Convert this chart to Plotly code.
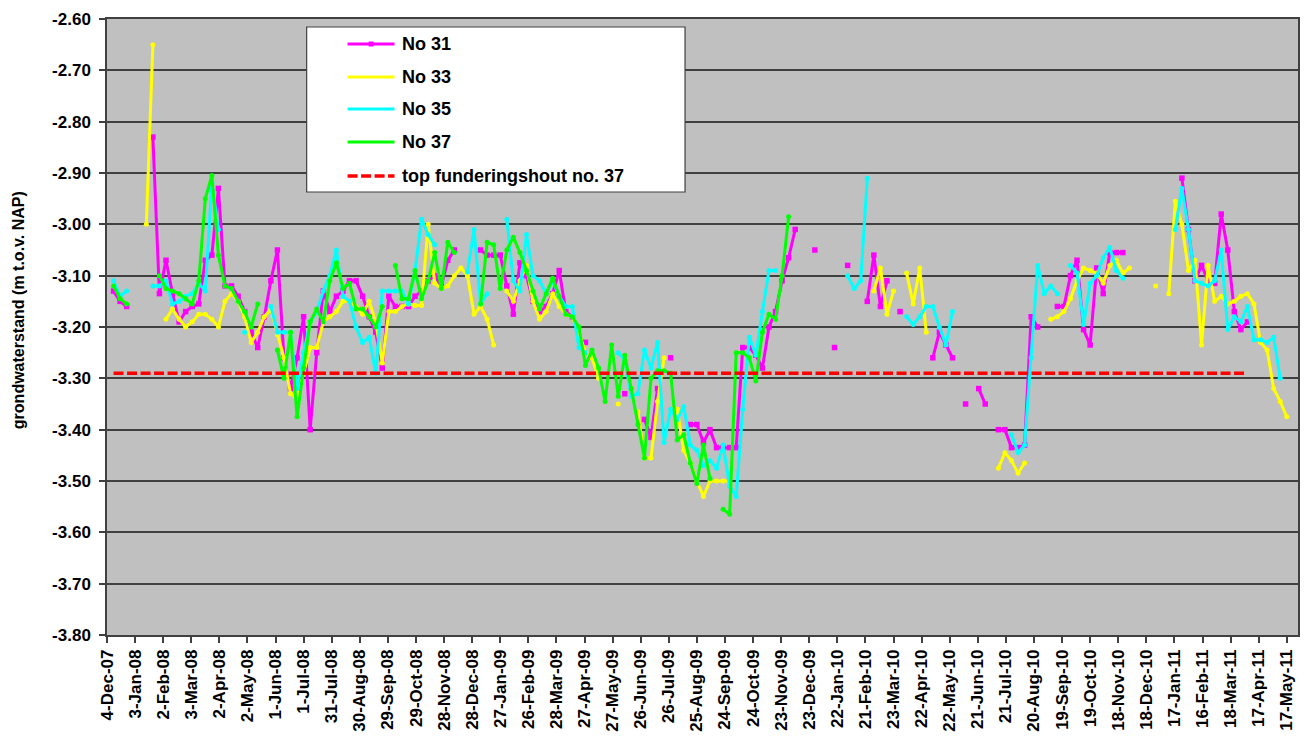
import pandas as pd
import plotly.graph_objects as go

# Weekly measurement dates (4 Dec 2007 .. 17 May 2011)
DATES = pd.date_range("2007-12-04", periods=181, freq="7D").strftime("%Y-%m-%d").tolist()

# Groundwater levels (m t.o.v. NAP); None = no reading that week
NO31 = [
    None, -3.13, -3.15, -3.16, None, None, None, -2.83, -3.135, -3.07,
    -3.135, -3.19, -3.17, -3.16, -3.155, -3.07, -3.06, -2.93, -3.12, -3.12,
    -3.14, -3.17, -3.21, -3.24, -3.18, -3.11, -3.05, -3.26, -3.32, -3.26,
    -3.18, -3.40, -3.25, -3.13, -3.17, -3.14, -3.13, -3.11, -3.11, -3.14,
    -3.18, -3.21, -3.28, -3.14, -3.16, -3.16, -3.16, -3.14, -3.13, -3.11,
    -3.10, -3.12, -3.07, -3.05, None, None, None, -3.05, -3.06, -3.06,
    -3.06, -3.12, -3.175, -3.075, -3.10, -3.15, -3.17, -3.16, -3.135, -3.09,
    -3.17, -3.18, None, -3.23, None, None, None, None, None, -3.33,
    None, None, -3.38, -3.415, -3.32, None, -3.26, None, None, -3.39,
    -3.39, -3.425, -3.40, -3.435, -3.435, -3.435, -3.435, -3.24, -3.24, -3.255,
    -3.28, -3.20, -3.17, -3.11, -3.065, -3.01, None, None, -3.05, None,
    None, -3.24, None, -3.08, None, None, -3.15, -3.06, -3.16, -3.11,
    None, -3.17, None, None, None, None, -3.26, -3.21, -3.235, -3.26,
    None, -3.35, None, -3.32, -3.35, None, -3.40, -3.40, -3.435, -3.435,
    -3.43, -3.18, -3.20, None, None, -3.16, -3.16, -3.10, -3.07, -3.205,
    -3.235, -3.085, -3.135, -3.055, -3.055, -3.055, None, None, None, None,
    None, None, None, None, -2.91, -3.01, -3.11, -3.08, -3.11, -3.115,
    -2.98, -3.05, -3.17, -3.205, -3.19, None, None, None, None, None,
    None,
]

NO33 = [
    None, None, None, None, None, None, -3.00, -2.65, None, -3.185,
    -3.165, -3.185, -3.20, -3.19, -3.175, -3.175, -3.185, -3.20, -3.15, -3.135,
    -3.15, -3.18, -3.23, -3.21, -3.18, -3.165, -3.215, -3.26, -3.33, -3.34,
    -3.29, -3.24, -3.24, -3.19, -3.18, -3.17, -3.15, -3.15, -3.16, -3.175,
    -3.15, -3.19, -3.27, -3.17, -3.17, -3.16, -3.155, -3.158, -3.158, -3.00,
    -3.115, -3.125, -3.12, -3.10, -3.085, -3.10, -3.175, -3.16, -3.185, -3.235,
    None, -3.13, -3.15, -3.11, -3.08, -3.15, -3.185, -3.17, -3.135, -3.16,
    -3.175, -3.18, -3.21, -3.25, -3.26, -3.30, None, None, -3.35, None,
    None, -3.365, -3.455, -3.455, -3.345, -3.26, None, -3.36, -3.44, -3.465,
    -3.50, -3.53, -3.50, -3.50, -3.50, -3.50, None, None, None, None,
    None, None, None, None, None, None, None, None, None, None,
    None, None, None, None, None, None, None, -3.13, -3.085, -3.175,
    -3.13, None, -3.095, -3.155, -3.085, -3.21, None, None, None, None,
    None, None, None, None, None, None, -3.475, -3.445, -3.46, -3.485,
    -3.465, None, None, None, -3.185, -3.18, -3.17, -3.145, -3.11, -3.085,
    -3.09, -3.095, -3.115, -3.08, -3.07, -3.095, -3.085, None, None, None,
    -3.12, None, -3.135, -2.955, -3.00, -3.09, -3.07, -3.235, -3.08, -3.15,
    -3.14, -3.155, -3.15, -3.14, -3.135, -3.155, -3.23, -3.245, -3.32, -3.345,
    -3.375,
]

NO35 = [
    None, -3.11, -3.14, -3.13, None, None, None, -3.12, -3.12, -3.11,
    -3.155, -3.15, -3.14, -3.135, -3.115, -3.13, -2.92, -3.01, None, None,
    None, -3.21, None, None, None, -3.16, -3.21, -3.21, -3.21, -3.32,
    -3.25, -3.19, -3.17, -3.13, -3.10, -3.05, -3.14, -3.15, -3.20, -3.23,
    -3.22, -3.29, -3.13, -3.13, -3.13, -3.13, -3.155, -3.09, -2.99, -3.02,
    -3.04, None, None, None, None, -3.093, -3.01, -3.155, -3.135, None,
    None, -2.99, -3.11, -3.13, -3.02, -3.10, -3.11, -3.135, -3.11, -3.14,
    -3.16, -3.16, -3.24, -3.25, None, None, None, None, -3.25, -3.265,
    -3.335, -3.33, -3.245, -3.28, -3.23, -3.425, -3.36, -3.38, -3.355, -3.43,
    -3.44, -3.47, -3.46, -3.475, -3.43, -3.51, -3.53, -3.36, -3.22, -3.255,
    -3.17, -3.09, -3.09, None, None, None, None, None, None, None,
    None, None, None, -3.10, -3.125, -3.11, -2.91, None, None, None,
    None, None, -3.18, -3.195, -3.18, -3.16, -3.16, -3.20, -3.235, -3.17,
    None, None, None, None, None, None, None, None, -3.41, -3.445,
    -3.43, -3.26, -3.08, -3.135, -3.12, -3.135, None, -3.08, -3.095, -3.195,
    -3.115, -3.10, -3.065, -3.045, -3.09, -3.105, None, None, None, None,
    None, None, None, -3.01, -2.93, -3.01, -3.11, -3.115, -3.12, -3.11,
    -3.05, -3.205, -3.18, -3.19, -3.16, -3.225, -3.225, -3.23, -3.22, -3.30,
    None,
]

NO37 = [
    None, -3.12, -3.145, -3.155, None, None, None, None, -3.10, -3.125,
    -3.13, -3.135, -3.145, -3.155, -3.11, -2.95, -2.905, -3.06, -3.12, -3.125,
    -3.15, -3.17, -3.20, -3.155, None, None, -3.245, -3.30, -3.21, -3.375,
    -3.28, -3.19, -3.165, -3.19, -3.11, -3.075, -3.125, -3.115, -3.165, -3.165,
    -3.18, -3.20, -3.16, None, -3.08, -3.145, -3.145, -3.09, -3.145, -3.11,
    -3.055, -3.125, -3.035, -3.055, None, None, None, -3.155, -3.035, -3.04,
    -3.125, -3.05, -3.025, -3.055, -3.09, -3.13, -3.165, -3.135, -3.105, -3.14,
    -3.175, -3.18, -3.20, -3.275, -3.245, -3.28, -3.345, -3.235, -3.335, -3.255,
    -3.32, -3.39, -3.455, -3.30, -3.285, -3.285, -3.29, -3.42, -3.41, -3.465,
    -3.505, -3.43, -3.495, None, -3.555, -3.565, -3.25, -3.25, -3.26, -3.305,
    -3.21, -3.175, -3.185, -3.10, -2.985,
] + [None] * 76

# Top of foundation timber, pile no. 37
TOP_FUNDERING = -3.29
TOP_FUNDERING_DATES = ["2007-12-11", "2011-04-05"]

SERIES_NAMES = ["No 31", "No 33", "No 35", "No 37"]
SERIES_COLORS = ["#FF00FF", "#FFFF00", "#00FFFF", "#00FF00"]
RED = "#FF0000"

Y_TICKS = [-3.80, -3.70, -3.60, -3.50, -3.40, -3.30, -3.20, -3.10, -3.00,
           -2.90, -2.80, -2.70, -2.60]
Y_TICK_TEXT = [f"{v:.2f}" for v in Y_TICKS]

FONT = "Liberation Sans, Arial, sans-serif"
W, H = 1309, 744
ML, MR, MT, MB = 107, 9, 19, 109
PW, PH = W - ML - MR, H - MT - MB


def px_x(px):
    return (px - ML) / PW


def px_y(py):
    return (H - MB - py) / PH


fig = go.Figure()

for name, vals, color in zip(SERIES_NAMES, [NO31, NO33, NO35, NO37], SERIES_COLORS):
    square = name == "No 31"
    fig.add_trace(go.Scatter(
        x=DATES, y=vals, name=name, mode="lines+markers",
        connectgaps=False, showlegend=False,
        line=dict(color=color, width=3),
        marker=dict(color=color, size=5.5 if square else 5,
                    symbol="square" if square else "circle"),
    ))

fig.add_trace(go.Scatter(
    x=TOP_FUNDERING_DATES, y=[TOP_FUNDERING] * len(TOP_FUNDERING_DATES),
    name="top funderingshout no. 37", mode="lines", showlegend=False,
    line=dict(color=RED, width=3.5, dash="10px,3.5px"),
))

# Legend box drawn in pixel positions
shapes = [dict(type="rect", xref="paper", yref="paper",
               x0=px_x(307), x1=px_x(686), y0=px_y(192), y1=px_y(27),
               fillcolor="white", line=dict(color="#404040", width=1.2), layer="above")]
annotations = []
legend_rows = [44, 77, 109, 142, 176]
legend_labels = SERIES_NAMES + ["top funderingshout no. 37"]
legend_colors = SERIES_COLORS + [RED]
for i, (ry, lab, col) in enumerate(zip(legend_rows, legend_labels, legend_colors)):
    dashed = i == 4
    shapes.append(dict(type="line", xref="paper", yref="paper",
                       x0=px_x(348), x1=px_x(395), y0=px_y(ry), y1=px_y(ry),
                       line=dict(color=col, width=3.5 if dashed else 3,
                                 dash="10px,3.5px" if dashed else "solid"),
                       layer="above"))
    if i == 0:
        shapes.append(dict(type="rect", xref="paper", yref="paper",
                           x0=px_x(369), x1=px_x(374), y0=px_y(ry + 2.5), y1=px_y(ry - 2.5),
                           fillcolor=col, line=dict(width=0), layer="above"))
    annotations.append(dict(xref="paper", yref="paper", x=px_x(400), y=px_y(ry),
                            xanchor="left", yanchor="middle", showarrow=False, text=lab,
                            font=dict(family=FONT, size=18, color="black", weight="bold")))

annotations.append(dict(xref="paper", yref="paper", x=px_x(18), y=px_y(310),
                        xanchor="center", yanchor="middle", showarrow=False, textangle=-90,
                        text="grondwaterstand (m t.o.v. NAP)",
                        font=dict(family=FONT, size=16, color="black", weight="bold")))

fig.update_layout(
    width=W, height=H,
    margin=dict(l=ML, r=MR, t=MT, b=MB, pad=0),
    paper_bgcolor="white", plot_bgcolor="#C0C0C0",
    showlegend=False,
    shapes=shapes, annotations=annotations,
    xaxis=dict(
        type="date", range=["2007-12-04", "2011-05-29"],
        tickmode="linear", tick0="2007-12-04", dtick=30 * 86400000,
        tickformat="%-d-%b-%y", tickangle=-90,
        ticks="outside", ticklen=6, tickwidth=1.5, tickcolor="#404040",
        showgrid=False, zeroline=False,
        showline=True, linecolor="#404040", linewidth=1.5, mirror=True,
        tickfont=dict(family=FONT, size=17, color="black", weight="bold"),
    ),
    yaxis=dict(
        range=[-3.80, -2.60], tickmode="array", tickvals=Y_TICKS, ticktext=Y_TICK_TEXT,
        ticks="outside", ticklen=6, tickwidth=1.5, tickcolor="#404040",
        showgrid=True, gridcolor="#404040", gridwidth=1.5, zeroline=False,
        showline=True, linecolor="#404040", linewidth=1.5, mirror=True,
        ticklabelstandoff=5,
        tickfont=dict(family=FONT, size=17, color="black", weight="bold"),
    ),
)

fig.write_html("out.html")
